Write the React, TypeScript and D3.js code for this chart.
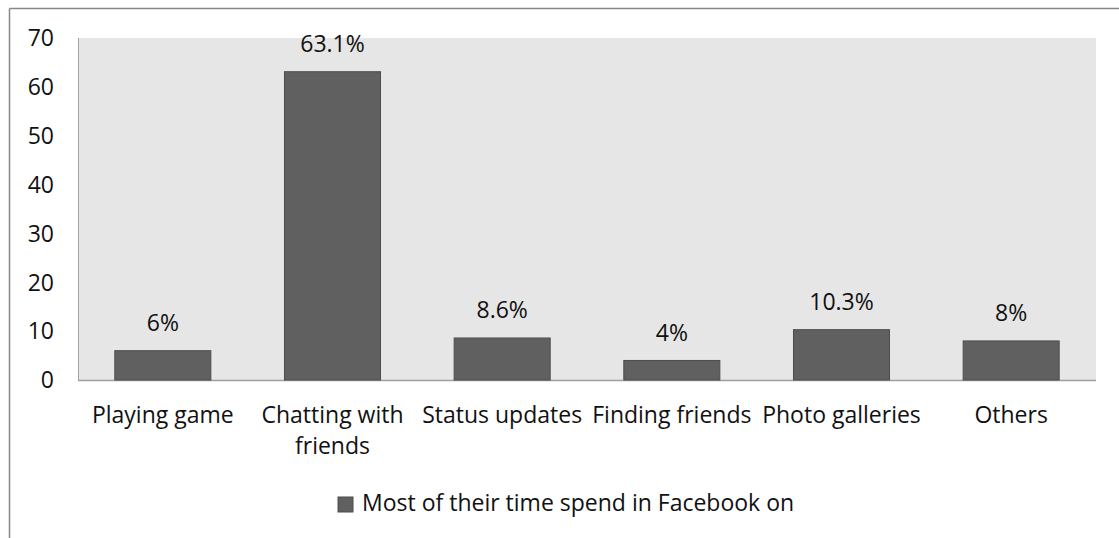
import React from "react";
import * as d3 from "d3";

const categories: string[][] = [
  ["Playing game"],
  ["Chatting with", "friends"],
  ["Status updates"],
  ["Finding friends"],
  ["Photo galleries"],
  ["Others"],
];
const values: number[] = [6, 63.1, 8.6, 4, 10.3, 8];
const valueLabels: string[] = ["6%", "63.1%", "8.6%", "4%", "10.3%", "8%"];
const yTicks: number[] = [0, 10, 20, 30, 40, 50, 60, 70];
const seriesName = "Most of their time spend in Facebook on";

const W = 1119;
const H = 538;
const plot = { left: 78, right: 1096, top: 38, bottom: 380 };
const FONT = "'Open Sans', sans-serif";
const FS = 23;

export default function App() {
  const x = d3
    .scaleBand<number>()
    .domain(d3.range(values.length))
    .range([plot.left, plot.right])
    .paddingInner(0.434)
    .paddingOuter(0.217);
  const y = d3.scaleLinear().domain([0, 70]).range([plot.bottom, plot.top]);

  return (
    <svg
      width={W}
      height={H}
      style={{ position: "absolute", left: 0, top: 0, background: "#fff" }}
      fontFamily={FONT}
    >
      {/* outer chart frame */}
      <line x1={9.5} y1={8.5} x2={W} y2={8.5} stroke="#878787" strokeWidth={1.5} />
      <line x1={9.5} y1={8.5} x2={9.5} y2={H} stroke="#878787" strokeWidth={1.5} />

      {/* plot area */}
      <rect
        x={plot.left}
        y={plot.top}
        width={plot.right - plot.left}
        height={plot.bottom - plot.top}
        fill="#e6e6e6"
      />
      <line x1={plot.left + 0.5} y1={plot.top} x2={plot.left + 0.5} y2={plot.bottom} stroke="#a0a0a0" strokeWidth={1} />
      <line x1={plot.left} y1={plot.bottom + 0.5} x2={plot.right} y2={plot.bottom + 0.5} stroke="#a0a0a0" strokeWidth={1.5} />

      {/* y tick labels */}
      {yTicks.map((t) => (
        <text
          key={t}
          x={54}
          y={y(t)}
          dy="0.36em"
          textAnchor="end"
          fontSize={FS}
          fill="#111"
        >
          {t}
        </text>
      ))}

      {/* bars */}
      {values.map((v, i) => (
        <rect
          key={i}
          x={x(i)!}
          y={y(v)}
          width={x.bandwidth()}
          height={y(0) - y(v)}
          fill="#606060"
          stroke="#4d4d4d"
          strokeWidth={1}
        />
      ))}

      {/* value labels */}
      {values.map((v, i) => (
        <text
          key={i}
          x={x(i)! + x.bandwidth() / 2}
          y={y(v) - 19.5}
          textAnchor="middle"
          fontSize={FS}
          fill="#111"
        >
          {valueLabels[i]}
        </text>
      ))}

      {/* category labels */}
      {categories.map((lines, i) => (
        <text
          key={i}
          x={x(i)! + x.bandwidth() / 2}
          y={422.5}
          textAnchor="middle"
          fontSize={FS}
          fill="#111"
        >
          {lines.map((l, j) => (
            <tspan key={j} x={x(i)! + x.bandwidth() / 2} dy={j === 0 ? 0 : 31}>
              {l}
            </tspan>
          ))}
        </text>
      ))}

      {/* legend */}
      <rect x={338} y={497} width={15} height={15} fill="#606060" stroke="#4d4d4d" strokeWidth={1} />
      <text x={362} y={510.5} fontSize={FS} fill="#111">
        {seriesName}
      </text>
    </svg>
  );
}
